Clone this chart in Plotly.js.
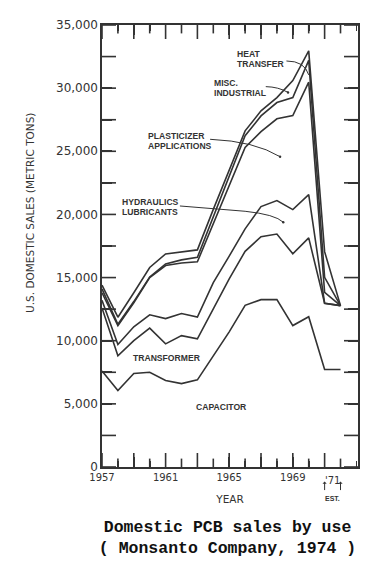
<!DOCTYPE html>
<html>
<head>
<meta charset="utf-8">
<script src="https://cdn.plot.ly/plotly-3.0.1.min.js"></script>
<style>
  html, body { margin: 0; padding: 0; background: #ffffff; }
  #chart { width: 391px; height: 565px; }
</style>
</head>
<body>
<div id="chart"></div>
<script>
// Years (1971 and 1972 are estimates)
const years = [1957, 1958, 1959, 1960, 1961, 1962, 1963, 1964, 1965, 1966, 1967, 1968, 1969, 1970, 1971, 1972];

// Domestic sales by use (metric tons), stacked from the bottom
const capacitor   = [7600, 6050, 7400, 7500, 6850, 6600, 6900, 8800, 10700, 12800, 13250, 13250, 11200, 11900, 7720, 7720];
const transformer = [5000, 2750, 2600, 3500, 2900, 3800, 3250, 3750, 4200, 4280, 4980, 5200, 5680, 6240, 5250, 5060];
const hydraulics  = [600, 900, 1100, 1050, 2000, 1750, 1720, 2050, 1800, 1780, 2390, 2650, 3500, 3430, 0, 0];
const plasticizer = [600, 1500, 1900, 2950, 4200, 4000, 4380, 4700, 5600, 6440, 5930, 6470, 7450, 8900, 860, 0];
const miscIndustrial = [300, 100, 100, 50, 130, 250, 350, 500, 700, 930, 1250, 1290, 1420, 1730, 1190, 0];
const heatTransfer = [300, 560, 700, 750, 790, 600, 590, 600, 500, 390, 400, 390, 1350, 750, 2030, 0];

const seriesNames = ['Capacitor', 'Transformer', 'Hydraulics/Lubricants', 'Plasticizer applications', 'Misc. industrial', 'Heat transfer'];
const seriesValues = [capacitor, transformer, hydraulics, plasticizer, miscIndustrial, heatTransfer];

// Axis ticks
const xTickVals = [1957, 1959, 1961, 1963, 1965, 1967, 1969, 1971];
const xTickText = ['1957', '', '1961', '', '1965', '', '1969', ''];
const xMinorVals = [1958, 1960, 1962, 1964, 1966, 1968, 1970, 1972];
const yTickVals = [0, 2500, 5000, 7500, 10000, 12500, 15000, 17500, 20000, 22500, 25000, 27500, 30000, 32500, 35000];
const yTickText = ['0', '', '5,000', '', '10,000', '', '15,000', '', '20,000', '', '25,000', '', '30,000', '', '35,000'];
const xRange = [1957, 1973.1];
const yRange = [0, 35000];

const ink = '#333333';

const traces = seriesNames.map((name, i) => ({
  type: 'scatter',
  mode: 'lines',
  name: name,
  x: years,
  y: seriesValues[i],
  stackgroup: 'uses',
  fill: 'none',
  line: { color: ink, width: 1.6 },
  showlegend: false
}));

// Inside tick marks on all four sides (drawn from the tick arrays, clipped to the frame)
function tickTrace(xs, ys, symbol, size) {
  return { type: 'scatter', mode: 'markers', x: xs, y: ys, cliponaxis: true, hoverinfo: 'skip', showlegend: false,
           marker: { symbol: symbol, size: size, color: ink, line: { color: ink, width: 1.6 } } };
}
traces.push(
  tickTrace(xTickVals, xTickVals.map(() => yRange[0]), 'line-ns-open', 20),
  tickTrace(xTickVals, xTickVals.map(() => yRange[1]), 'line-ns-open', 20),
  tickTrace(xMinorVals, xMinorVals.map(() => yRange[0]), 'line-ns-open', 12),
  tickTrace(xMinorVals, xMinorVals.map(() => yRange[1]), 'line-ns-open', 12),
  tickTrace(yTickVals.map(() => xRange[0]), yTickVals, 'line-ew-open', 20),
  tickTrace(yTickVals.map(() => xRange[1]), yTickVals, 'line-ew-open', 20)
);

const labelFont = { family: 'Liberation Sans, Arial, sans-serif', size: 8.6, color: ink };
function lbl(text, x, y) {
  return { text: '<b>' + text + '</b>', x: x, y: y, xref: 'x', yref: 'y',
           xanchor: 'left', yanchor: 'middle', showarrow: false, font: labelFont, borderpad: 0 };
}
function dotMark(x, y, ax, ay) {
  return { text: '', x: x, y: y, xref: 'x', yref: 'y', showarrow: true, ax: ax, ay: ay,
           arrowhead: 6, arrowsize: 0.6, arrowwidth: 1, arrowcolor: ink, standoff: 0 };
}

const annotations = [
  lbl('HEAT', 1965.45, 32680),
  lbl('TRANSFER', 1965.45, 31920),
  lbl('MISC.', 1963.98, 30370),
  lbl('INDUSTRIAL', 1963.98, 29610),
  lbl('PLASTICIZER', 1959.8, 26180),
  lbl('APPLICATIONS', 1959.8, 25420),
  lbl('HYDRAULICS', 1958.22, 20950),
  lbl('LUBRICANTS', 1958.22, 20190),
  lbl('TRANSFORMER', 1958.9, 8610),
  lbl('CAPACITOR', 1962.83, 4730),
  dotMark(1970.0, 31050, 0, -1),
  dotMark(1968.7, 29660, -1, -1),
  dotMark(1968.2, 24570, -1, -1),
  dotMark(1968.4, 19380, -1, -1),
  { text: 'U.S. DOMESTIC SALES (METRIC TONS)', textangle: -90, x: -0.281, y: 0.575,
    xref: 'paper', yref: 'paper', xanchor: 'center', yanchor: 'middle', showarrow: false,
    font: { family: 'DejaVu Sans, sans-serif', size: 10.5, color: ink } },
  { text: "'71", x: 1971.5, y: -0.03, xref: 'x', yref: 'paper', xanchor: 'center', yanchor: 'middle',
    showarrow: false, font: { family: 'DejaVu Sans, sans-serif', size: 10, color: ink } },
  { text: '<b>EST.</b>', x: 1971.5, y: -0.071, xref: 'x', yref: 'paper', xanchor: 'center', yanchor: 'middle',
    showarrow: false, font: { family: 'Liberation Sans, Arial, sans-serif', size: 7, color: ink } },
  { text: '', x: 1971, y: -0.033, xref: 'x', yref: 'paper', showarrow: true, ax: 0, ay: 10,
    arrowhead: 1, arrowsize: 0.7, arrowwidth: 1, arrowcolor: ink },
  { text: '', x: 1972, y: -0.033, xref: 'x', yref: 'paper', showarrow: true, ax: 0, ay: 10,
    arrowhead: 1, arrowsize: 0.7, arrowwidth: 1, arrowcolor: ink }
];

const leader = { color: ink, width: 1 };
const shapes = [
  { type: 'path', xref: 'x', yref: 'y', path: 'M 1968.6,32150 Q 1969.75,32150 1970.0,31050', line: leader },
  { type: 'path', xref: 'x', yref: 'y', path: 'M 1967.3,30120 Q 1968.1,30100 1968.7,29660', line: leader },
  { type: 'path', xref: 'x', yref: 'y', path: 'M 1963.8,25950 Q 1966.6,25800 1968.2,24570', line: leader },
  { type: 'path', xref: 'x', yref: 'y', path: 'M 1961.9,20670 L 1966.0,20250 Q 1967.9,20000 1968.4,19380', line: leader }
];

const layout = {
  width: 391,
  height: 565,
  paper_bgcolor: '#ffffff',
  plot_bgcolor: '#ffffff',
  font: { family: 'DejaVu Sans, sans-serif', color: ink },
  margin: { l: 102, r: 33, t: 25, b: 98 },
  title: {
    text: '<b>Domestic PCB sales by use<br>( Monsanto Company, 1974 )</b>',
    font: { family: 'Courier New, Liberation Mono, monospace', size: 16.5, color: '#111111' },
    x: 0.582, xref: 'container', xanchor: 'center',
    y: 0.059, yref: 'container', yanchor: 'middle'
  },
  xaxis: {
    range: xRange,
    tickmode: 'array',
    tickvals: xTickVals,
    ticktext: xTickText,
    ticks: 'inside',
    ticklen: 10,
    tickwidth: 1.6,
    tickcolor: ink,
    minor: { tickmode: 'linear', tick0: 1957, dtick: 1, ticks: 'inside', ticklen: 6, tickwidth: 1.6, tickcolor: ink, showgrid: false },
    showline: true,
    linecolor: ink,
    linewidth: 1.6,
    mirror: 'ticks',
    showgrid: false,
    zeroline: false,
    tickfont: { family: 'DejaVu Sans, sans-serif', size: 10, color: ink },
    title: { text: 'YEAR', font: { family: 'DejaVu Sans, sans-serif', size: 10.5, color: ink }, standoff: 14 }
  },
  yaxis: {
    range: yRange,
    tickmode: 'array',
    tickvals: yTickVals,
    ticktext: yTickText,
    ticks: 'inside',
    ticklen: 10,
    tickwidth: 1.6,
    tickcolor: ink,
    showline: true,
    linecolor: ink,
    linewidth: 1.6,
    mirror: 'ticks',
    showgrid: false,
    zeroline: false,
    tickfont: { family: 'DejaVu Sans, sans-serif', size: 12, color: ink }
  },
  annotations: annotations,
  shapes: shapes,
  showlegend: false
};

Plotly.newPlot('chart', traces, layout, { displayModeBar: false, staticPlot: true });
</script>
</body>
</html>
